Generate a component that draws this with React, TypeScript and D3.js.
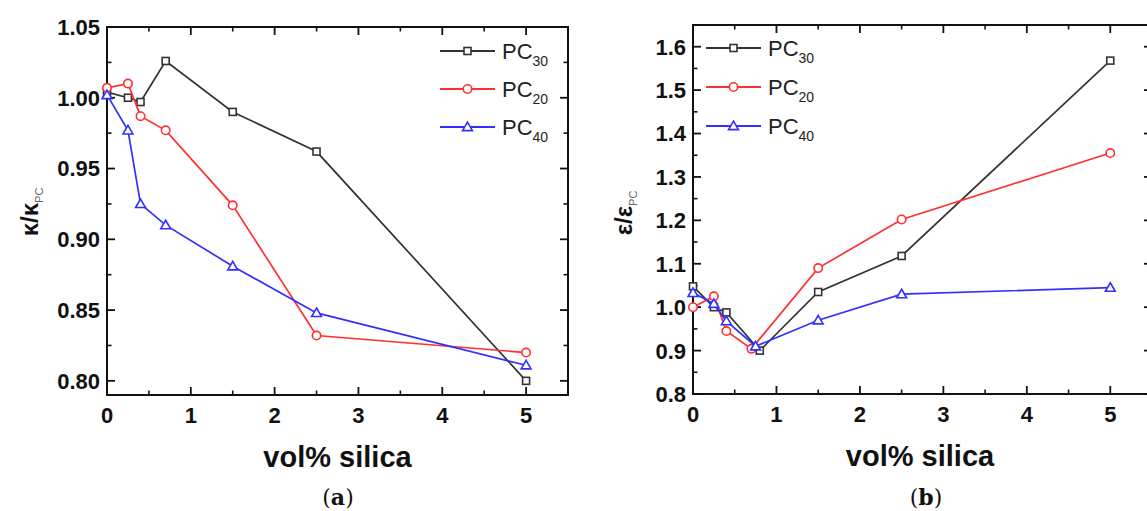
import React from "react";
import * as d3 from "d3";

// ---------- data ----------
const xA = [0, 0.25, 0.4, 0.7, 1.5, 2.5, 5];
const kappaPC30 = [1.004, 1.0, 0.997, 1.026, 0.99, 0.962, 0.8];
const kappaPC20 = [1.007, 1.01, 0.987, 0.977, 0.924, 0.832, 0.82];
const kappaPC40 = [1.002, 0.977, 0.925, 0.91, 0.881, 0.848, 0.811];

const xB30 = [0, 0.25, 0.4, 0.8, 1.5, 2.5, 5];
const xB20 = [0, 0.25, 0.4, 0.7, 1.5, 2.5, 5];
const xB40 = [0, 0.25, 0.4, 0.75, 1.5, 2.5, 5];
const epsPC30 = [1.048, 1.0, 0.988, 0.9, 1.035, 1.118, 1.568];
const epsPC20 = [1.0, 1.025, 0.945, 0.904, 1.09, 1.202, 1.355];
const epsPC40 = [1.033, 1.008, 0.968, 0.91, 0.97, 1.03, 1.045];

const xTicks = [0, 1, 2, 3, 4, 5];
const xMinorTicks = [0.5, 1.5, 2.5, 3.5, 4.5, 5.5];
const yTicksA = [0.8, 0.85, 0.9, 0.95, 1.0, 1.05];
const yMinorA = [0.825, 0.875, 0.925, 0.975, 1.025];
const yTicksB = [0.8, 0.9, 1.0, 1.1, 1.2, 1.3, 1.4, 1.5, 1.6];
const yMinorB = [0.85, 0.95, 1.05, 1.15, 1.25, 1.35, 1.45, 1.55, 1.65];

const legendNames = ["30", "20", "40"];
const COLORS = ["#333333", "#ff3030", "#3030ff"];
const MARKERS = ["square", "circle", "triangle"];

type Series = { name: string; xs: number[]; ys: number[]; color: string; marker: string };

const seriesA: Series[] = [
  { name: legendNames[0], xs: xA, ys: kappaPC30, color: COLORS[0], marker: MARKERS[0] },
  { name: legendNames[1], xs: xA, ys: kappaPC20, color: COLORS[1], marker: MARKERS[1] },
  { name: legendNames[2], xs: xA, ys: kappaPC40, color: COLORS[2], marker: MARKERS[2] },
];
const seriesB: Series[] = [
  { name: legendNames[0], xs: xB30, ys: epsPC30, color: COLORS[0], marker: MARKERS[0] },
  { name: legendNames[1], xs: xB20, ys: epsPC20, color: COLORS[1], marker: MARKERS[1] },
  { name: legendNames[2], xs: xB40, ys: epsPC40, color: COLORS[2], marker: MARKERS[2] },
];

const FONT = "'Liberation Sans', Arial, Helvetica, sans-serif";

function Marker({ type, x, y, color }: { type: string; x: number; y: number; color: string }) {
  if (type === "square")
    return <rect x={x - 3.5} y={y - 3.5} width={7} height={7} fill="white" stroke={color} strokeWidth={1.6} />;
  if (type === "circle") return <circle cx={x} cy={y} r={4.2} fill="white" stroke={color} strokeWidth={1.6} />;
  const p = d3.symbol().type(d3.symbolTriangle).size(42)() as string;
  return <path d={p} transform={`translate(${x},${y + 0.8})`} fill="white" stroke={color} strokeWidth={1.6} />;
}

type PanelProps = {
  left: number; right: number; top: number; bottom: number;
  yDomain: [number, number];
  yTicks: number[]; yMinor: number[]; yFmt: (v: number) => string;
  series: Series[];
  legendX: number; legendY: number; legendGap: number;
  yTitleMain: string; yTitleX: number; yTitleY: number;
  caption: string; captionX: number;
};

function Panel(p: PanelProps) {
  const x = d3.scaleLinear().domain([0, 5.5]).range([p.left, p.right]);
  const y = d3.scaleLinear().domain(p.yDomain).range([p.bottom, p.top]);
  const line = d3.line<[number, number]>().x((d) => x(d[0])).y((d) => y(d[1]));
  const MAJ = 8, MIN = 4.5;
  const cx = (p.left + Math.min(p.right, 1147)) / 2;
  return (
    <g>
      {/* frame */}
      <rect x={p.left} y={p.top} width={p.right - p.left} height={p.bottom - p.top} fill="none" stroke="#111" strokeWidth={2} />
      {/* x ticks bottom & top */}
      {xTicks.map((t) => (
        <g key={"xt" + t}>
          <line x1={x(t)} x2={x(t)} y1={p.bottom} y2={p.bottom - MAJ} stroke="#111" strokeWidth={1.8} />
          <line x1={x(t)} x2={x(t)} y1={p.top} y2={p.top + MAJ} stroke="#111" strokeWidth={1.8} />
          <text x={x(t)} y={p.bottom + 28} textAnchor="middle" fontFamily={FONT} fontWeight="bold" fontSize={22} fill="#111">
            {t}
          </text>
        </g>
      ))}
      {xMinorTicks.map((t) => (
        <g key={"xm" + t}>
          <line x1={x(t)} x2={x(t)} y1={p.bottom} y2={p.bottom - MIN} stroke="#111" strokeWidth={1.6} />
          <line x1={x(t)} x2={x(t)} y1={p.top} y2={p.top + MIN} stroke="#111" strokeWidth={1.6} />
        </g>
      ))}
      {/* y ticks left & right */}
      {p.yTicks.map((t) => (
        <g key={"yt" + t}>
          <line x1={p.left} x2={p.left + MAJ} y1={y(t)} y2={y(t)} stroke="#111" strokeWidth={1.8} />
          <line x1={p.right} x2={p.right - MAJ} y1={y(t)} y2={y(t)} stroke="#111" strokeWidth={1.8} />
          <text x={p.left - 7} y={y(t)} dy="0.36em" textAnchor="end" fontFamily={FONT} fontWeight="bold" fontSize={22} fill="#111">
            {p.yFmt(t)}
          </text>
        </g>
      ))}
      {p.yMinor.map((t) => (
        <g key={"ym" + t}>
          <line x1={p.left} x2={p.left + MIN} y1={y(t)} y2={y(t)} stroke="#111" strokeWidth={1.6} />
          <line x1={p.right} x2={p.right - MIN} y1={y(t)} y2={y(t)} stroke="#111" strokeWidth={1.6} />
        </g>
      ))}
      {/* series */}
      {p.series.map((s) => {
        const pts = s.xs.map((xv, i) => [xv, s.ys[i]] as [number, number]);
        return (
          <g key={"s" + s.name}>
            <path d={line(pts) as string} fill="none" stroke={s.color} strokeWidth={1.7} />
            {pts.map((d, i) => (
              <Marker key={i} type={s.marker} x={x(d[0])} y={y(d[1])} color={s.color} />
            ))}
          </g>
        );
      })}
      {/* legend */}
      {p.series.map((s, i) => {
        const ly = p.legendY + i * p.legendGap;
        return (
          <g key={"l" + s.name}>
            <line x1={p.legendX} x2={p.legendX + 55} y1={ly} y2={ly} stroke={s.color} strokeWidth={1.8} />
            <Marker type={s.marker} x={p.legendX + 27.5} y={ly} color={s.color} />
            <text x={p.legendX + 62} y={ly + 8} fontFamily={FONT} fontSize={22} fill="#222">
              PC
              <tspan fontSize={14} dy={7}>{s.name}</tspan>
            </text>
          </g>
        );
      })}
      {/* y title */}
      <text transform={`translate(${p.yTitleX},${p.yTitleY}) rotate(-90)`} textAnchor="middle" fontFamily={FONT} fontWeight="bold" fontSize={24} fill="#111">
        {p.yTitleMain}
        <tspan fontSize={11} fontWeight="normal" fill="#666" dy={5}>PC</tspan>
      </text>
      {/* x title */}
      <text x={cx} y={p.bottom + 72} textAnchor="middle" fontFamily={FONT} fontWeight="bold" fontSize={29} fill="#111">
        vol% silica
      </text>
      {/* caption */}
      <text x={p.captionX} y={505} textAnchor="middle" fontFamily="'DejaVu Serif', 'Liberation Serif', serif" fontSize={22} fill="#111">
        (<tspan fontWeight="bold">{p.caption}</tspan>)
      </text>
    </g>
  );
}

export default function App() {
  return (
    <svg width={1147} height={511} style={{ position: "absolute", left: 0, top: 0, background: "white" }}>
      <rect x={0} y={0} width={1147} height={511} fill="white" />
      <Panel
        left={107} right={568} top={27} bottom={395}
        yDomain={[0.79, 1.05]}
        yTicks={yTicksA} yMinor={yMinorA} yFmt={(v) => v.toFixed(2)}
        series={seriesA}
        legendX={440} legendY={51} legendGap={38}
        yTitleMain="κ/κ" yTitleX={38} yTitleY={212}
        caption="a" captionX={338}
      />
      <Panel
        left={693} right={1152} top={25} bottom={394}
        yDomain={[0.8, 1.65]}
        yTicks={yTicksB} yMinor={yMinorB} yFmt={(v) => v.toFixed(1)}
        series={seriesB}
        legendX={706} legendY={48} legendGap={39}
        yTitleMain="ε/ε" yTitleX={632} yTitleY={213}
        caption="b" captionX={926}
      />
    </svg>
  );
}
